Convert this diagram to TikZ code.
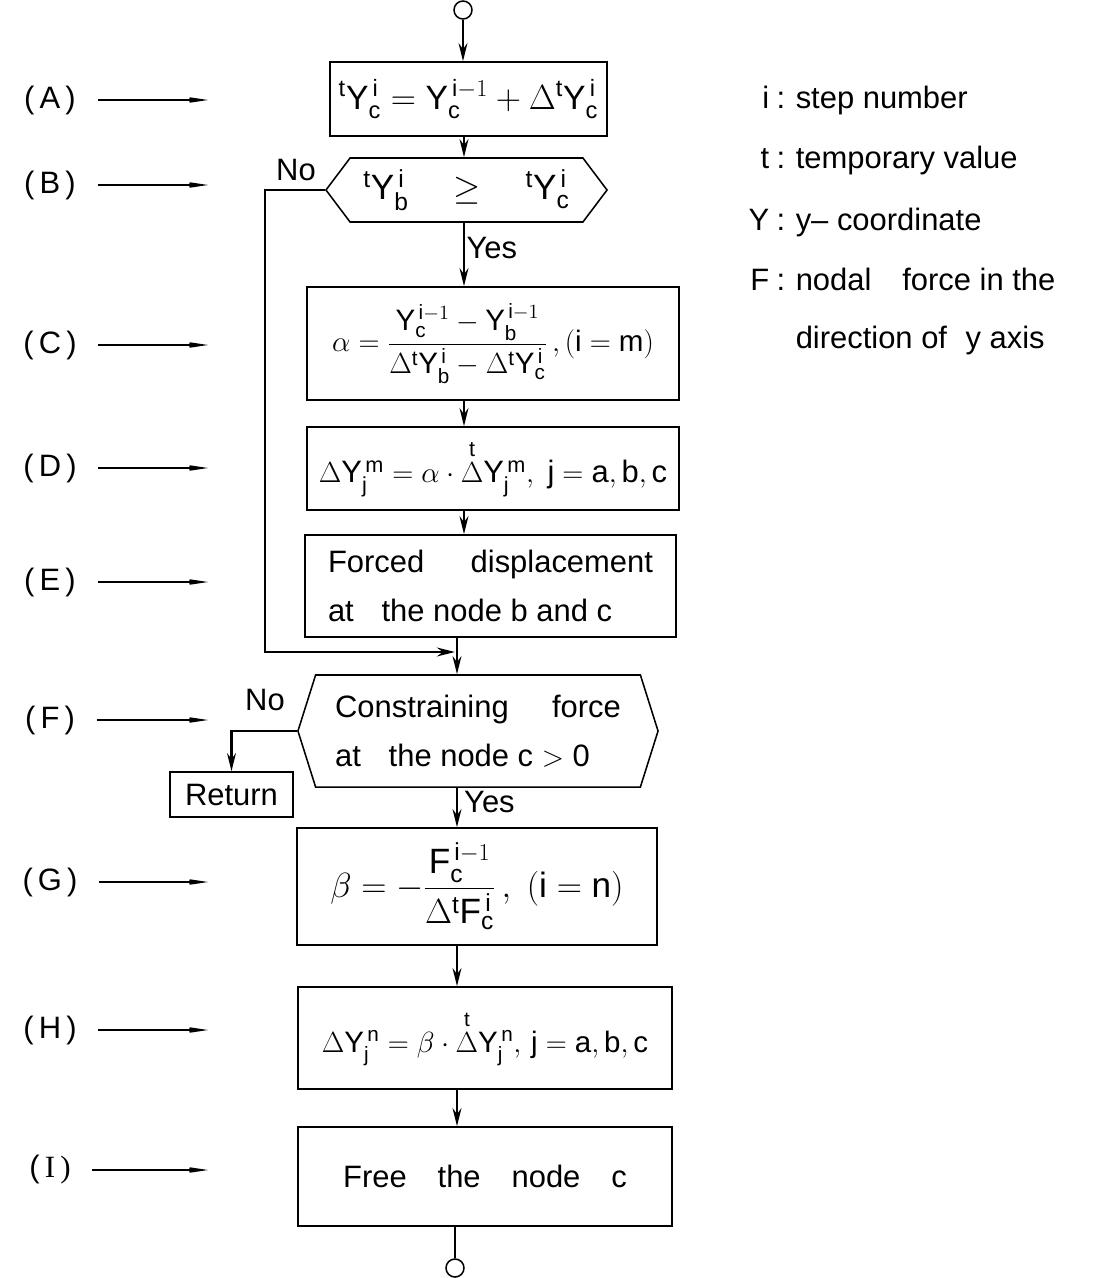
\documentclass[tikz,border=0pt]{standalone}
\usepackage{amsmath}
\usepackage{fontspec}
\setmainfont{Liberation Sans}
\newfontfamily\romanI{Liberation Serif}
\usetikzlibrary{shapes.symbols,arrows.meta}
\newcommand{\Yv}[2]{\mathrm{Y}_{\mathrm{#1}}^{\,#2}}
\newcommand{\Fv}[2]{\mathrm{F}_{\mathrm{#1}}^{\,#2}}
\newcommand{\tp}{{}^{\mathrm{t}}}

\begin{document}
\begin{tikzpicture}[x=.025cm,y=-.025cm,line width=1.1pt,font=\fontsize{22}{35}\selectfont,
  box/.style={draw,inner sep=3pt},
  decision/.style={draw,shape=signal,signal to=west and east,inner sep=3pt},
  big/.style={font=\fontsize{25}{35}\selectfont},
  small/.style={font=\fontsize{21}{35}\selectfont},
  flow/.style={line width=1.8pt,-{Stealth[length=.45cm,width=.22cm]}},
  pointer/.style={line width=1.8pt,-{Stealth[length=.8cm,width=.24cm,inset=.35cm]}},
  endpt/.style={circle,draw,minimum size=.45cm,inner sep=0pt}]
\useasboundingbox (0,0) rectangle (1113,1278);
\coordinate (colA) at (464,0);\coordinate (colB) at (457,0);
\coordinate (join) at (455,652);\coordinate (noB) at (265,0);
% main column
\node[endpt] (start) at (463,10) {};
\node[box,font=\fontsize{24}{35}\selectfont,minimum width=6.925cm,minimum height=1.85cm] (A) at (468.5,99)
  {$\tp\Yv{c}{\mathrm{i}}=\Yv{c}{\mathrm{i}-1}+\Delta\tp\Yv{c}{\mathrm{i}}$};
\node[decision,big,signal pointer angle=106,minimum width=7.025cm,minimum height=1.6cm] (B) at (466.5,190)
  {$\tp\Yv{b}{\mathrm{i}}\quad\geq\quad\tp\Yv{c}{\mathrm{i}}$};
\node[box,small,minimum width=9.3cm,minimum height=2.825cm] (C) at (493,343.5)
  {$\alpha=\dfrac{\Yv{c}{\mathrm{i}-1}-\Yv{b}{\mathrm{i}-1}}{\Delta\tp\Yv{b}{\mathrm{i}}-\Delta\tp\Yv{c}{\mathrm{i}}}\,,(\mathrm{i}=\mathrm{m})$};
\node[box,minimum width=9.3cm,minimum height=2.075cm] (D) at (493,468.5)
  {$\Delta\Yv{j}{\mathrm{m}}=\alpha\cdot\overset{\mathrm{t}}{\Delta}\Yv{j}{\mathrm{m}},\ \mathrm{j}=\mathrm{a,b,c}$};
\node[box,minimum width=9.275cm,minimum height=2.55cm,align=left] (E) at (490.5,586)
  {Forced\hspace{1.5em}displacement\\at\hspace{.9em}the node b and c};
\node[decision,signal pointer angle=145,minimum width=9cm,minimum height=2.8cm,align=left] (F) at (478,731)
  {Constraining\hspace{1.4em}force\\at\hspace{.9em}the node c $>$ 0};
\node[box,minimum width=3.075cm,minimum height=1.125cm] (ret) at (231.5,794.5) {Return};
\node[box,big,minimum width=9cm,minimum height=2.925cm] (G) at (477,886.5)
  {$\beta=-\dfrac{\Fv{c}{\mathrm{i}-1}}{\Delta\tp\Fv{c}{\mathrm{i}}}\,,\ (\mathrm{i}=\mathrm{n})$};
\node[box,small,minimum width=9.35cm,minimum height=2.55cm] (H) at (485,1038)
  {$\Delta\Yv{j}{\mathrm{n}}=\beta\cdot\overset{\mathrm{t}}{\Delta}\Yv{j}{\mathrm{n}},\,\mathrm{j}=\mathrm{a,b,c}$};
\node[box,minimum width=9.35cm,minimum height=2.475cm] (I) at (485,1176.5)
  {Free\hspace{1em}the\hspace{1em}node\hspace{1em}c};
\node[endpt] (end) at (455,1268) {};
% connectors
\draw[flow] (start) -- (start |- A.north);
\draw[flow] (A.south -| colA) -- (B.north -| colA);
\draw[flow] (B.south -| colA) -- (C.north -| colA) node[pos=.4,anchor=west,inner sep=1pt] (yesB) {Yes};
\draw[flow] (C.south -| colA) -- (D.north -| colA);
\draw[flow] (D.south -| colA) -- (E.north -| colA);
\draw[flow] (B.west) -| (noB |- join) -- (join);
\draw[flow] (E.south -| colB) -- (F.north -| colB);
\draw[flow] (F.west) -| (ret.north);
\draw[flow] (F.south -| colB) -- (G.north -| colB);
\draw[flow] (G.south -| colB) -- (H.north -| colB);
\draw[flow] (H.south -| colB) -- (I.north -| colB);
\draw[line width=1.8pt] (end |- I.south) -- (end);
\node (noBl) at (296,170) {No};
\node (noFl) at (265,700) {No};
\node[anchor=west,inner sep=1pt] (yesF) at (462,802) {Yes};
% step labels
\foreach \n/\y/\t in {A/100/A,B/185/B,C/345/C,D/468/D,E/582/E,F/720/F,G/882/G,H/1030/H,I/1170/{\romanI I}}{
  \node[inner sep=0pt] (l\n) at (50,\y) {(\,\t\,)};
  \coordinate (p\n) at (208,\y);
  \draw[pointer] ([xshift=15]l\n.east) -- (p\n);
}
% legend
\foreach \s/\y/\d in {i/108/step number,t/168/temporary value,Y/230/y-- coordinate,F/290/nodal\hspace{1em}force in the}{
  \node[anchor=base east,inner sep=0pt] (k\s) at (770,\y) {\s};
  \node[anchor=base,inner sep=0pt] (c\s) at (781,\y) {:};
  \node[anchor=base west,inner sep=0pt] (v\s) at (795,\y) {\d};
}
\node[anchor=base west,inner sep=0pt] (vF2) at (795,348) {direction of\hspace{.6em}y axis};
\end{tikzpicture}
\end{document}
